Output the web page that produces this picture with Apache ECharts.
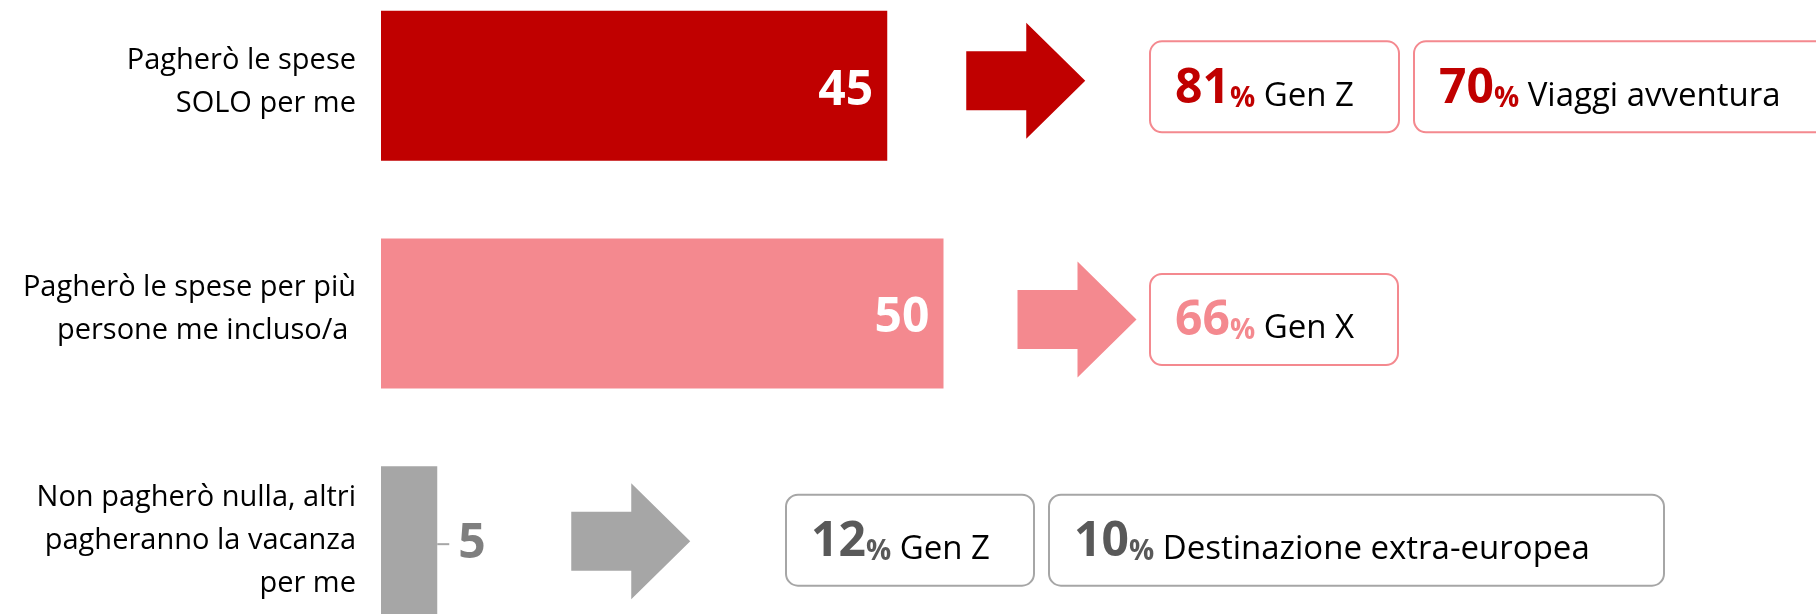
<!DOCTYPE html>
<html>
 <head>
  <meta charset="utf-8" />
  <title>Chi paga la vacanza</title>
  <script src="https://cdn.jsdelivr.net/npm/echarts@6/dist/echarts.min.js"></script>
 </head>
 <body style="margin:0;background:#fff;">
  <div id="main" style="width:1816px;height:614px;"></div>
  <script type="text/javascript">

    // dati
    var categories = [
        'Pagherò le spese\nSOLO per me',
        'Pagherò le spese per più\npersone me incluso/a ',
        'Non pagherò nulla, altri\npagheranno la vacanza\nper me'
    ];
    var shares = [45, 50, 5];
    var calloutValues = [[81, 70], [66], [12, 10]];
    var calloutLabels = [['Gen Z', 'Viaggi avventura'], ['Gen X'], ['Gen Z', 'Destinazione extra-europea']];

    // stile / layout
    var barColors = ['#C00000', '#F4898F', '#A6A6A6'];
    var numColors = ['#C00000', '#F4898F', '#595959'];
    var boxColors = ['#F4898F', '#F4898F', '#A6A6A6'];
    var arrowGap = [79, 74, 134];
    var arrowDy = [-5, 6, 0];
    var boxLeft = [[1150, 1414], [1150], [786, 1049]];
    var boxWidth = [[249, 420], [248], [248, 615]];
    var boxDy = [1, 6, -1];
    var FONT = '"Open Sans", sans-serif';

    var myChart = echarts.init(document.getElementById('main'));

    var barData = shares.map(function (v, i) {
        var item = { value: v, itemStyle: { color: barColors[i] } };
        if (i < 2) {
            item.label = {
                show: true, position: 'insideRight', distance: 14, offset: [0, 5],
                color: '#fff', fontFamily: FONT, fontSize: 48, fontWeight: 'bold'
            };
        } else {
            item.label = {
                show: true, position: 'right', distance: 0, offset: [0, 3],
                formatter: '{ln|}{v|{c}}',
                rich: {
                    ln: { width: 12, height: 2, backgroundColor: '#A6A6A6' },
                    v: { color: '#7F7F7F', fontFamily: FONT, fontSize: 48, fontWeight: 'bold', padding: [0, 0, 0, 9] }
                }
            };
        }
        return item;
    });

    myChart.setOption({
        animation: false,
        grid: { left: 381, right: 310, top: -28, height: 683, outerBoundsMode: 'none' },
        xAxis: { type: 'value', min: 0, max: 100, show: false },
        yAxis: {
            type: 'category',
            data: categories,
            inverse: true,
            axisLine: { show: false },
            axisTick: { show: false },
            splitLine: { show: false },
            axisLabel: {
                color: '#000', fontFamily: FONT, fontSize: 29, lineHeight: 43,
                margin: 25, align: 'right',
                // le prime due etichette stanno un po' più in alto
                formatter: function (value, index) {
                    return index < 2 ? value + '\n{sp|}' : value;
                },
                rich: { sp: { height: 8, lineHeight: 8 } }
            }
        },
        series: [{ type: 'bar', barWidth: 150, data: barData }]
    });

    // frecce e riquadri
    var graphics = [];
    shares.forEach(function (v, i) {
        var end = myChart.convertToPixel({ seriesIndex: 0 }, [v, i]);
        var x0 = end[0] + arrowGap[i];
        var cy = end[1] + arrowDy[i];
        graphics.push({
            type: 'polygon',
            shape: {
                points: [
                    [x0, cy - 29.5], [x0 + 60, cy - 29.5], [x0 + 60, cy - 58],
                    [x0 + 119, cy], [x0 + 60, cy + 58], [x0 + 60, cy + 29.5], [x0, cy + 29.5]
                ]
            },
            style: { fill: barColors[i] }
        });
        var by = end[1] + boxDy[i];
        calloutValues[i].forEach(function (pct, j) {
            graphics.push({
                type: 'rect',
                shape: { x: boxLeft[i][j], y: by - 45.5, width: boxWidth[i][j], height: 91, r: 12 },
                style: { fill: '#fff', stroke: boxColors[i], lineWidth: 2 }
            });
            graphics.push({
                type: 'text',
                x: boxLeft[i][j] + 25,
                y: by + 2,
                style: {
                    text: '{n|' + pct + '}{p|%} {t|' + calloutLabels[i][j] + '}',
                    verticalAlign: 'middle',
                    fontFamily: FONT,
                    fontSize: 33,
                    rich: {
                        n: { fill: numColors[i], fontFamily: FONT, fontSize: 48, fontWeight: 'bold', lineHeight: 48, verticalAlign: 'bottom' },
                        p: { fill: numColors[i], fontFamily: FONT, fontSize: 28, fontWeight: 'bold', lineHeight: 36, verticalAlign: 'bottom' },
                        t: { fill: '#000', fontFamily: FONT, fontSize: 33, lineHeight: 39, verticalAlign: 'bottom' }
                    }
                }
            });
        });
    });
    myChart.setOption({ graphic: graphics });
</script>
 </body>
</html>
